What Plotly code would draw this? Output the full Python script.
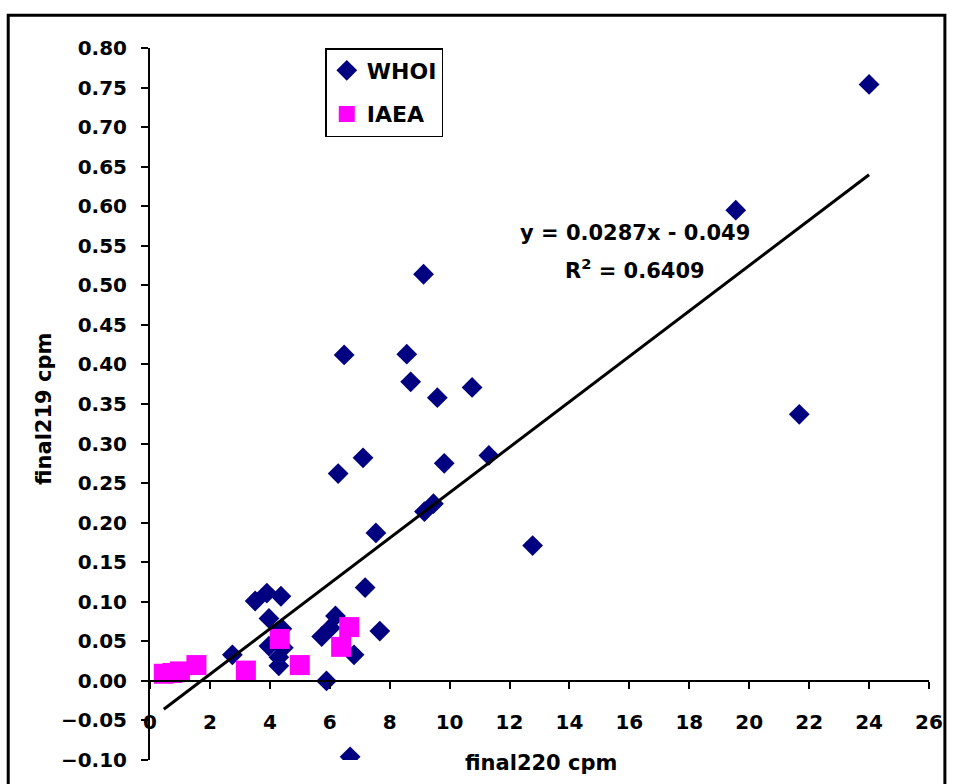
import plotly.graph_objects as go

# ---- data ----
whoi_x = [24.0, 19.55, 21.67, 12.77, 9.13, 6.48, 8.57, 8.70, 10.75, 9.59,
          11.31, 7.11, 9.82, 6.28, 9.46, 9.16, 7.54, 7.18, 7.67, 6.68,
          5.89, 6.81, 6.19, 5.73, 6.02, 2.75, 3.51, 3.90, 4.37, 3.97,
          4.40, 3.97, 4.45, 4.30, 4.30]
whoi_y = [0.754, 0.595, 0.337, 0.171, 0.514, 0.412, 0.413, 0.378, 0.371, 0.358,
          0.285, 0.282, 0.275, 0.262, 0.224, 0.214, 0.187, 0.118, 0.063, -0.096,
          0.000, 0.033, 0.082, 0.056, 0.067, 0.033, 0.101, 0.111, 0.107, 0.079,
          0.066, 0.044, 0.042, 0.030, 0.019]

iaea_x = [0.46, 0.75, 1.00, 1.55, 3.20, 4.33, 5.00, 6.38, 6.65]
iaea_y = [0.009, 0.010, 0.012, 0.020, 0.013, 0.053, 0.020, 0.043, 0.068]

trend_slope = 0.0287
trend_intercept = -0.049
trend_label = "y = 0.0287x - 0.049"
r2_label = "R<sup>2</sup> = 0.6409"

x_title = "final220 cpm"
y_title = "final219 cpm"

x_range = [0, 26]
y_range = [-0.10, 0.80]

# ---- figure ----
FONT = "DejaVu Sans, Liberation Sans, Arial"

all_x = whoi_x + iaea_x
tx = [min(all_x), max(all_x)]
ty = [trend_slope * v + trend_intercept for v in tx]

fig = go.Figure()
fig.add_trace(go.Scatter(
    x=whoi_x, y=whoi_y, mode="markers", name="WHOI",
    legendgroup="a",
    marker=dict(symbol="diamond", size=16, color="#000080",
                line=dict(width=0)),
))
fig.add_trace(go.Scatter(
    x=iaea_x, y=iaea_y, mode="markers", name="IAEA",
    legendgroup="b",
    marker=dict(symbol="square", size=20, color="#FF00FF",
                line=dict(width=0)),
))
fig.add_trace(go.Scatter(
    x=tx, y=ty, mode="lines", showlegend=False,
    line=dict(color="black", width=3),
))

zero_pos = (0 - y_range[0]) / (y_range[1] - y_range[0])

fig.update_layout(
    width=955, height=784,
    margin=dict(l=150, r=19, t=48, b=22),
    paper_bgcolor="white", plot_bgcolor="white",
    font=dict(family=FONT, color="black", size=20, weight="bold"),
    showlegend=True,
    legend=dict(
        x=0.225, y=1.0, xanchor="left", yanchor="top",
        bordercolor="black", borderwidth=1.5, bgcolor="white",
        font=dict(family=FONT, size=22, color="black", weight="bold"),
        traceorder="grouped", tracegroupgap=12, itemwidth=30,
    ),
    xaxis=dict(
        range=x_range, dtick=2, tick0=0,
        showline=True, linecolor="black", linewidth=2,
        ticks="outside", ticklen=7, tickwidth=2, tickcolor="black",
        anchor="free", position=zero_pos,
        showgrid=False, zeroline=False,
        tickfont=dict(family=FONT, size=20, color="black", weight="bold"),
        ticklabelstandoff=16, ticklabeloverflow="allow",
    ),
    yaxis=dict(
        range=y_range, dtick=0.05, tick0=0, tickformat=".2f",
        showline=True, linecolor="black", linewidth=2,
        ticks="outside", ticklen=7, tickwidth=2, tickcolor="black",
        showgrid=False, zeroline=False,
        tickfont=dict(family=FONT, size=20, color="black", weight="bold"),
        ticklabelstandoff=10,
    ),
    annotations=[
        dict(x=16.2, y=0.566, xref="x", yref="y", text=trend_label,
             showarrow=False, font=dict(family=FONT, size=21, weight="bold")),
        dict(x=16.2, y=0.521, xref="x", yref="y", text=r2_label,
             showarrow=False, font=dict(family=FONT, size=21, weight="bold")),
        dict(x=0.5025, y=-0.004, xref="paper", yref="paper", text=x_title,
             showarrow=False, yanchor="middle",
             font=dict(family=FONT, size=21, weight="bold")),
        dict(x=-0.136, y=0.493, xref="paper", yref="paper", text=y_title,
             showarrow=False, textangle=-90, xanchor="center", yanchor="middle",
             font=dict(family=FONT, size=21, weight="bold")),
    ],
    shapes=[
        dict(type="rect", xref="paper", yref="paper",
             x0=-0.182, x1=1.0204, y0=-0.2, y1=1.046,
             line=dict(color="black", width=3), fillcolor="rgba(0,0,0,0)",
             layer="below"),
    ],
)

# remove the default 8px body margin so the figure fills the window exactly
fig.write_html(
    "out.html",
    config={"displayModeBar": False},
    post_script="document.body.style.margin='0';"
                "document.documentElement.style.overflow='hidden';",
)
